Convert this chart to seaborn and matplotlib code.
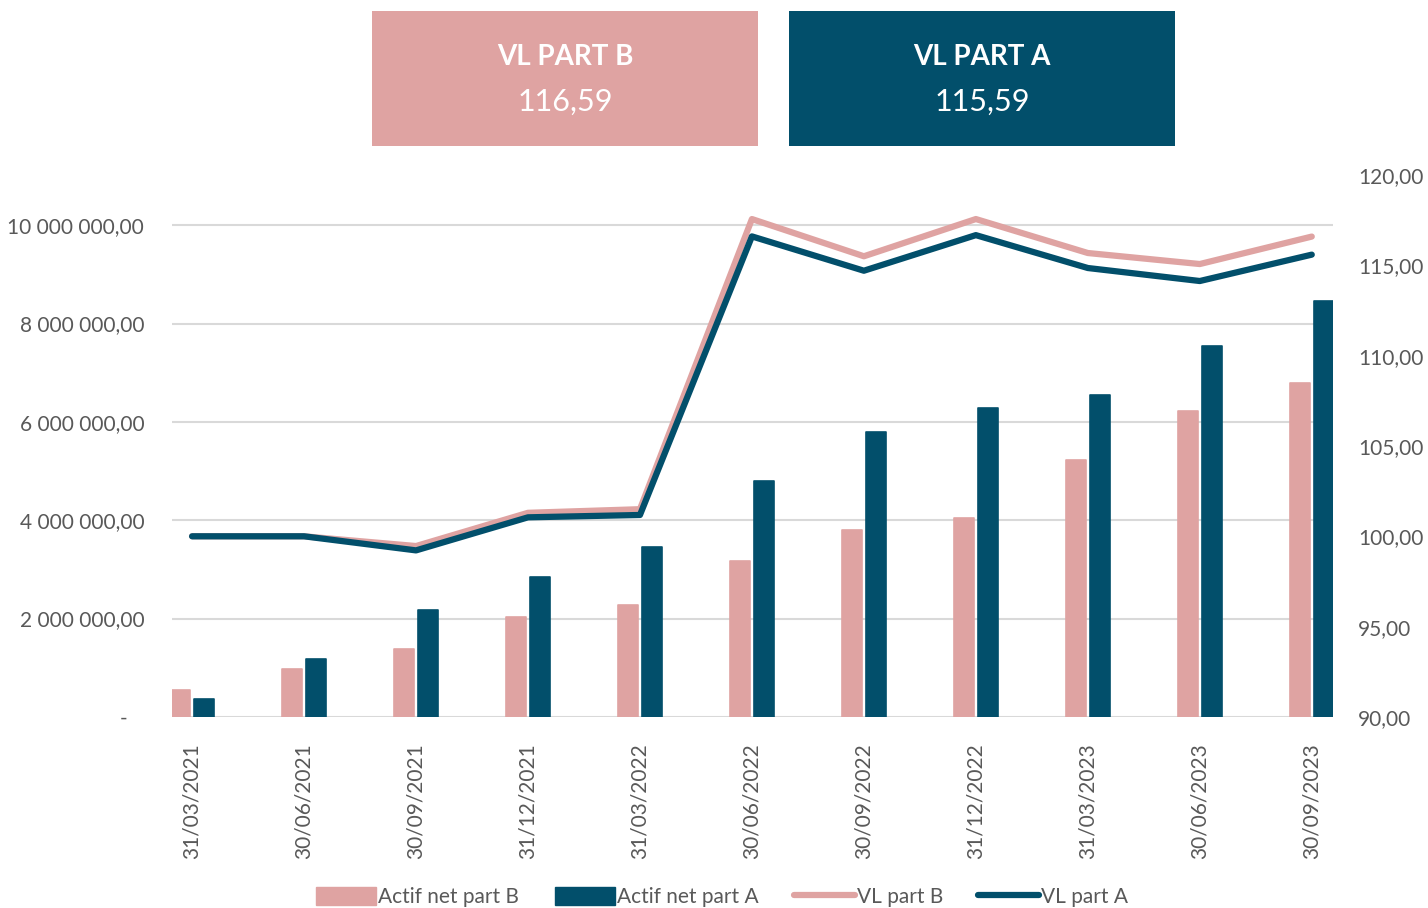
import matplotlib
matplotlib.use("Agg")
import matplotlib.pyplot as plt
import numpy as np
import pandas as pd
import seaborn as sns
from matplotlib.patches import Rectangle
from matplotlib.lines import Line2D
from matplotlib.ticker import FuncFormatter, MultipleLocator

# couleurs
PINK = "#DFA3A2"
NAVY = "#024F6B"
GREY_TXT = "#595959"

dates = ["31/03/2021", "30/06/2021", "30/09/2021", "31/12/2021", "31/03/2022",
         "30/06/2022", "30/09/2022", "31/12/2022", "31/03/2023", "30/06/2023",
         "30/09/2023"]
actif_b = [550000, 970000, 1390000, 2030000, 2270000, 3170000, 3800000,
           4040000, 5220000, 6220000, 6790000]
actif_a = [370000, 1170000, 2170000, 2840000, 3460000, 4800000, 5790000,
           6280000, 6540000, 7540000, 8460000]
vl_b = [100.0, 100.0, 99.46, 101.3, 101.5, 117.56, 115.5, 117.56, 115.68,
        115.07, 116.59]
vl_a = [100.0, 100.0, 99.22, 101.05, 101.18, 116.6, 114.7, 116.67, 114.85,
        114.13, 115.59]

box_labels = ["VL PART B", "VL PART A"]
box_values = ["116,59", "115,59"]

sns.set_theme(style="white")
plt.rcParams["font.family"] = ["Lato", "DejaVu Sans"]

df_bars = pd.DataFrame({
    "date": dates * 2,
    "actif": actif_b + actif_a,
    "serie": ["Actif net part B"] * len(dates) + ["Actif net part A"] * len(dates),
})
df_lines = pd.DataFrame({
    "pos": list(range(len(dates))) * 2,
    "vl": vl_b + vl_a,
    "serie": ["VL part B"] * len(dates) + ["VL part A"] * len(dates),
})

fig = plt.figure(figsize=(14.28, 9.08), dpi=100)
ax = fig.add_axes([0.1204, 0.2104, 0.8131, 0.5969])

sns.barplot(data=df_bars, x="date", y="actif", hue="serie",
            palette=[PINK, NAVY], width=0.43, gap=0.16, ax=ax,
            legend=False, saturation=1)
for p in ax.patches:
    p.set_edgecolor(p.get_facecolor())
    p.set_linewidth(1.2)
    p.set_joinstyle("round")

ax.yaxis.set_major_locator(MultipleLocator(2000000))
ax.set_ylim(0, 11020000)


def fmt_left(v, pos):
    if v == 0:
        return "-   "
    return f"{v:,.2f}".replace(",", " ").replace(".", ",")


ax.yaxis.set_major_formatter(FuncFormatter(fmt_left))
ax.grid(axis="y", color="#D9D9D9", linewidth=1.5)
ax.set_axisbelow(True)
ax.set_xlabel("")
ax.set_ylabel("")
for s in ax.spines.values():
    s.set_visible(False)
ax.tick_params(axis="y", length=0, pad=20, labelsize=15, labelcolor=GREY_TXT)
ax.tick_params(axis="x", length=0, pad=19, labelsize=15, labelcolor=GREY_TXT)
plt.setp(ax.get_xticklabels(), rotation=90)

ax2 = ax.twinx()
sns.lineplot(data=df_lines, x="pos", y="vl", hue="serie",
             palette=[PINK, NAVY], linewidth=4.5, sort=False, ax=ax2,
             legend=False)
for ln in ax2.lines:
    ln.set_solid_capstyle("round")
    ln.set_solid_joinstyle("round")
ax2.set_ylim(90, 120)
ax2.yaxis.set_major_locator(MultipleLocator(5))
ax2.yaxis.set_major_formatter(FuncFormatter(lambda v, p: f"{v:.2f}".replace(".", ",")))
ax2.set_ylabel("")
ax2.grid(False)
for s in ax2.spines.values():
    s.set_visible(False)
ax2.tick_params(axis="y", length=0, pad=18, labelsize=15, labelcolor=GREY_TXT)
ax.set_xlim(-0.18, 10.19)

# encadrés du haut
boxes = [(0.2605, PINK), (0.5525, NAVY)]
for (x0, col), lab, val in zip(boxes, box_labels, box_values):
    fig.patches.append(Rectangle((x0, 0.8392), 0.2703, 0.1487,
                                 transform=fig.transFigure, facecolor=col,
                                 edgecolor="none"))
    cx = x0 + 0.2703 / 2
    fig.text(cx, 0.9372, lab, ha="center", va="center", color="white",
             fontsize=20, fontweight="bold")
    fig.text(cx, 0.8877, val, ha="center", va="center", color="white",
             fontsize=22, fontweight="normal")

handles = [
    Rectangle((0, 0), 1, 1, facecolor=PINK, edgecolor=PINK),
    Rectangle((0, 0), 1, 1, facecolor=NAVY, edgecolor=NAVY),
    Line2D([], [], color=PINK, linewidth=4.5, solid_capstyle="round"),
    Line2D([], [], color=NAVY, linewidth=4.5, solid_capstyle="round"),
]
labels = ["Actif net part B", "Actif net part A", "VL part B", "VL part A"]
leg = fig.legend(handles, labels, loc="center", bbox_to_anchor=(0.5056, 0.012),
                 ncol=4, frameon=False, fontsize=15, handlelength=2.9,
                 handleheight=0.9, handletextpad=0.1, columnspacing=1.7)
for t in leg.get_texts():
    t.set_color(GREY_TXT)

fig.savefig("out.png", dpi=100)
